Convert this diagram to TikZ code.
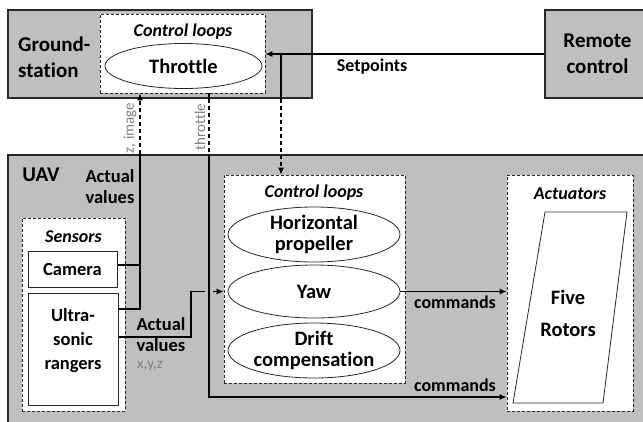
\documentclass[tikz,border=0pt]{standalone}
\usepackage{fontspec}
\setmainfont{Carlito}[Ligatures=CommonOff]
\usetikzlibrary{shapes.geometric,arrows.meta}
\definecolor{boxgray}{RGB}{191,191,191}
\definecolor{txtgray}{RGB}{128,128,128}
\definecolor{edge}{RGB}{40,40,40}

\begin{document}
\begin{tikzpicture}[x=1pt,y=-1pt,
  graybox/.style={draw=edge, fill=boxgray, line width=1.1pt, inner sep=0pt},
  dashbox/.style={draw=edge, fill=white, line width=0.8pt, dash pattern=on 3pt off 2pt, inner sep=0pt},
  plainbox/.style={draw=edge, fill=white, line width=1pt, inner sep=0pt},
  loopell/.style={ellipse, draw=edge, fill=white, line width=0.8pt, inner sep=0pt, align=center,
    font=\bfseries\fontsize{20.5}{20.5}\selectfont},
  bigtxt/.style={inner sep=0pt, font=\bfseries\fontsize{21}{26}\selectfont},
  midtxt/.style={inner sep=0pt, font=\bfseries\fontsize{18.5}{21}\selectfont},
  ittxt/.style={inner sep=0pt, font=\bfseries\itshape\fontsize{18}{20}\selectfont},
  cmdtxt/.style={inner sep=0pt, font=\bfseries\fontsize{18}{20}\selectfont},
  graytxt/.style={inner sep=0pt, text=txtgray, font=\fontsize{15}{17}\selectfont},
  conn/.style={draw=black, line width=1.2pt},
  wl/.style={conn, dash pattern=on 4pt off 3pt},
  tip/.style={-{Latex[length=7pt,width=6pt]}}
]
\useasboundingbox (0,0) rectangle (643,421);
\clip (0,0) rectangle (643,421);
\fill[white] (0,0) rectangle (643,421);

% ground station
\node[graybox, minimum width=304pt, minimum height=88pt] (gs) at (160,54) {};
\node[bigtxt, align=left, anchor=west] (gstxt) at (18,57) {Ground-\\station};
\node[dashbox, minimum width=165pt, minimum height=79pt] (gsl) at (182.5,53.5) {};
\node[ittxt] (gsltitle) at (183,32) {Control loops};
\node[loopell, minimum width=157pt, minimum height=45pt] (thr) at (183.5,66) {Throttle};

% remote control
\node[graybox, bigtxt, align=center, minimum width=105pt, minimum height=88pt] (rc) at (597.5,54) {Remote\\control};

% UAV
\node[graybox, minimum width=652pt, minimum height=285pt] (uav) at (334,297.5) {};
\node[bigtxt] (uavtxt) at (41,175) {UAV};
\node[midtxt, align=center] (av1) at (110,187) {Actual\\values};

% sensors
\node[dashbox, minimum width=103pt, minimum height=193pt] (sens) at (73.5,314.5) {};
\node[ittxt] (senstitle) at (73.5,237) {Sensors};
\node[plainbox, midtxt, minimum width=89pt, minimum height=36pt] (cam) at (72.5,269) {Camera};
\node[plainbox, minimum width=90pt, minimum height=112pt] (us) at (73,349) {};
\node[midtxt, align=center, font=\bfseries\fontsize{18.5}{24}\selectfont] (ustxt) at (73,341) {Ultra-\\sonic\\rangers};

% control loops on board
\node[dashbox, minimum width=181pt, minimum height=208pt] (loops) at (314.5,279) {};
\node[ittxt] (loopstitle) at (314,193) {Control loops};
\node[loopell, minimum width=172pt, minimum height=55pt] (hp) at (314,234.5) {Horizontal\\propeller};
\node[loopell, minimum width=172pt, minimum height=53pt] (yaw) at (314,291.5) {Yaw};
\node[loopell, minimum width=172pt, minimum height=55pt] (drift) at (314,350.5) {Drift\\compensation};

% actuators
\node[dashbox, minimum width=126pt, minimum height=236pt] (act) at (570,293) {};
\node[ittxt] (acttitle) at (570,194) {Actuators};
\draw[draw=edge, fill=white, line width=0.8pt] (545,212) -- (627,212) -- (603,403) -- (513,403) -- cycle;
\node[inner sep=0pt, align=center, font=\bfseries\fontsize{20.5}{32}\selectfont] (rotors) at (568,313) {Five\\Rotors};

% line positions
\coordinate (vz) at (140,0);
\coordinate (vt) at (209,0);
\coordinate (vs) at (281,0);
\coordinate (vstep) at (191,0);
\coordinate (camout) at (cam.east |- 0,265);
\coordinate (usout1) at (us.east |- 0,309);
\coordinate (usout2) at (us.east |- 0,337);

% actual values up to the ground station
\draw[conn] (camout) -- (camout -| vz);
\draw[conn] (usout1) -| (vz |- uav.north);
\draw[wl] (vz |- uav.north) -- (vz |- gs.south);
\draw[conn, tip] (vz |- gs.south) -- (vz |- gsl.south);
\node[graytxt, rotate=90] (zimg) at (130,128) {z, image};

% actual values to the on-board loops
\draw[conn, tip] (usout2) -| (vstep |- yaw.west) -- (loops.west |- yaw.west);
\node[midtxt, align=left] (av2) at (161,335) {Actual\\values};
\node[graytxt, anchor=west] (xyz) at (137,366) {x,y,z};
\draw[boxgray, line width=8pt] (vt |- 0,288) -- (vt |- 0,295);

% throttle down to the rotors
\draw[conn] (vt |- gsl.south) -- (vt |- gs.south);
\draw[wl] (vt |- gs.south) -- (vt |- uav.north);
\draw[conn, tip] (vt |- uav.north) |- (act.west |- 0,397);
\node[graytxt, rotate=90] (thrtxt) at (200,127) {throttle};
\node[cmdtxt] (cmd2) at (455,385) {commands};

% setpoints
\draw[conn, tip] (rc.west |- 0,54) -- (gsl.east |- 0,54);
\draw[conn] (vs |- 0,54) -- (vs |- gs.south);
\draw[wl, tip] (vs |- gs.south) -- (vs |- loops.north);
\node[cmdtxt] (sp) at (372,67) {Setpoints};

% commands
\draw[conn, tip] (yaw.east) -- (yaw.east -| act.west);
\node[cmdtxt] (cmd1) at (455,302) {commands};
\end{tikzpicture}
\end{document}
